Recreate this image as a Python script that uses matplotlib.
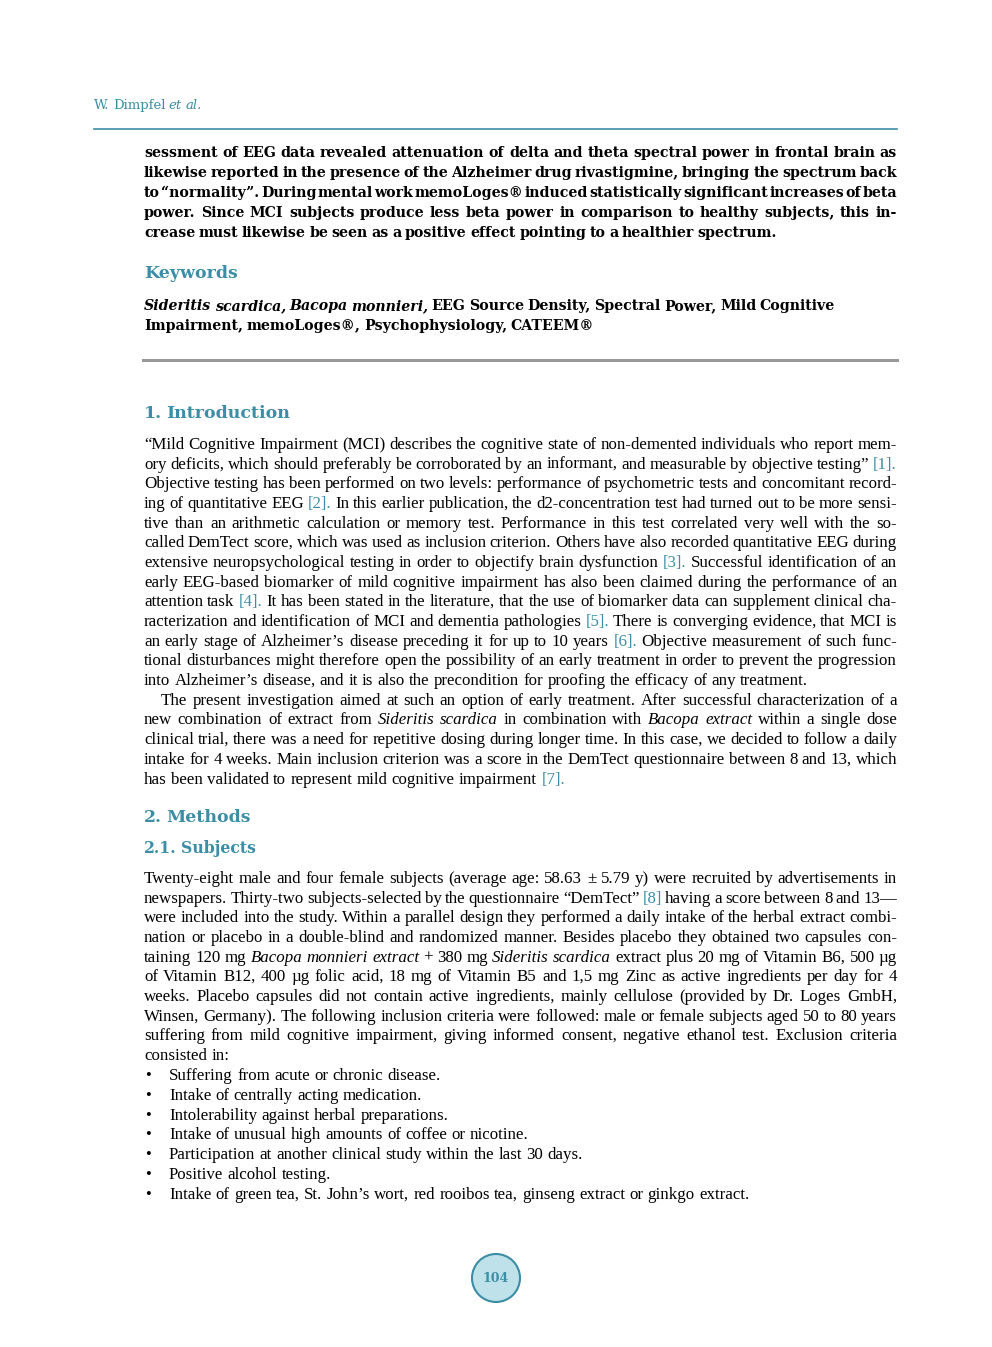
import matplotlib
matplotlib.use("Agg")
import matplotlib.pyplot as plt
from matplotlib.patches import Circle

TEAL = "#3b8ea5"
SERIF = ["Liberation Serif", "DejaVu Serif"]
HEAD = ["DejaVu Serif"]

header = "W. Dimpfel *et* *al.*"
abstract_lines = [
    "sessment of EEG data revealed attenuation of delta and theta spectral power in frontal brain as",
    "likewise reported in the presence of the Alzheimer drug rivastigmine, bringing the spectrum back",
    "to “normality”. During mental work memoLoges® induced statistically significant increases of beta",
    "power. Since MCI subjects produce less beta power in comparison to healthy subjects, this in-",
    "crease must likewise be seen as a positive effect pointing to a healthier spectrum.",
]
keyword_lines = [
    "*Sideritis* *scardica*, *Bacopa* *monnieri*, EEG Source Density, Spectral Power, Mild Cognitive",
    "Impairment, memoLoges®, Psychophysiology, CATEEM®",
]
intro_lines = [
    "“Mild Cognitive Impairment (MCI) describes the cognitive state of non-demented individuals who report mem-",
    "ory deficits, which should preferably be corroborated by an informant, and measurable by objective testing” [1].",
    "Objective testing has been performed on two levels: performance of psychometric tests and concomitant record-",
    "ing of quantitative EEG [2]. In this earlier publication, the d2-concentration test had turned out to be more sensi-",
    "tive than an arithmetic calculation or memory test. Performance in this test correlated very well with the so-",
    "called DemTect score, which was used as inclusion criterion. Others have also recorded quantitative EEG during",
    "extensive neuropsychological testing in order to objectify brain dysfunction [3]. Successful identification of an",
    "early EEG-based biomarker of mild cognitive impairment has also been claimed during the performance of an",
    "attention task [4]. It has been stated in the literature, that the use of biomarker data can supplement clinical cha-",
    "racterization and identification of MCI and dementia pathologies [5]. There is converging evidence, that MCI is",
    "an early stage of Alzheimer’s disease preceding it for up to 10 years [6]. Objective measurement of such func-",
    "tional disturbances might therefore open the possibility of an early treatment in order to prevent the progression",
    "into Alzheimer’s disease, and it is also the precondition for proofing the efficacy of any treatment.",
    "The present investigation aimed at such an option of early treatment. After successful characterization of a",
    "new combination of extract from *Sideritis* *scardica* in combination with *Bacopa* *extract* within a single dose",
    "clinical trial, there was a need for repetitive dosing during longer time. In this case, we decided to follow a daily",
    "intake for 4 weeks. Main inclusion criterion was a score in the DemTect questionnaire between 8 and 13, which",
    "has been validated to represent mild cognitive impairment [7].",
]
intro_y = [444, 464, 483, 503, 523, 542, 562, 582, 601, 621, 641, 660, 680, 700, 719, 739, 759, 779]
intro_last = {12, 17}
subject_lines = [
    "Twenty-eight male and four female subjects (average age: 58.63 ± 5.79 y) were recruited by advertisements in",
    "newspapers. Thirty-two subjects-selected by the questionnaire “DemTect” [8] having a score between 8 and 13—",
    "were included into the study. Within a parallel design they performed a daily intake of the herbal extract combi-",
    "nation or placebo in a double-blind and randomized manner. Besides placebo they obtained two capsules con-",
    "taining 120 mg *Bacopa* *monnieri* *extract* + 380 mg *Sideritis* *scardica* extract plus 20 mg of Vitamin B6, 500 µg",
    "of Vitamin B12, 400 µg folic acid, 18 mg of Vitamin B5 and 1,5 mg Zinc as active ingredients per day for 4",
    "weeks. Placebo capsules did not contain active ingredients, mainly cellulose (provided by Dr. Loges GmbH,",
    "Winsen, Germany). The following inclusion criteria were followed: male or female subjects aged 50 to 80 years",
    "suffering from mild cognitive impairment, giving informed consent, negative ethanol test. Exclusion criteria",
    "consisted in:",
]
subject_y = [878, 898, 917, 937, 957, 976, 996, 1016, 1035, 1055]
bullets = [
    "Suffering from acute or chronic disease.",
    "Intake of centrally acting medication.",
    "Intolerability against herbal preparations.",
    "Intake of unusual high amounts of coffee or nicotine.",
    "Participation at another clinical study within the last 30 days.",
    "Positive alcohol testing.",
    "Intake of green tea, St. John’s wort, red rooibos tea, ginseng extract or ginkgo extract.",
]
bullet_y = [1075, 1095, 1115, 1134, 1154, 1174, 1194]
page_number = "104"

fig = plt.figure(figsize=(9.92, 13.47), dpi=100)
W, H = 992, 1347
rend = fig.canvas.get_renderer()

def fx(x): return x / W
def fy(y): return 1 - y / H

def line(s, y, x0=144, x1=897, justify=True, size=12.2, weight="normal", color="black",
         family=SERIF, base_italic=False):
    words = s.split(" ")
    objs, widths = [], []
    for w in words:
        it = base_italic or ("*" in w)
        w2 = w.replace("*", "")
        c = TEAL if w2.startswith("[") else color
        t = fig.text(0, fy(y + 5), w2, fontsize=size, family=family, weight=weight,
                     style="italic" if it else "normal", color=c, va="baseline", ha="left")
        objs.append(t)
        widths.append(t.get_window_extent(rend).width)
    space = 0.25 * size * 100 / 72
    if justify and len(words) > 1:
        gap = (x1 - x0 - sum(widths)) / (len(words) - 1)
    else:
        gap = space
    x = x0
    for t, wd in zip(objs, widths):
        t.set_x(fx(x))
        x += wd + gap

def hline(y, x0, x1, color, lw):
    fig.add_artist(plt.Line2D([fx(x0), fx(x1)], [fy(y), fy(y)], color=color, lw=lw))

line(header, 104, x0=94, justify=False, size=9.5, color=TEAL, family=HEAD)
hline(129, 94, 897, TEAL, 1.2)

for i, s in enumerate(abstract_lines):
    line(s, 152 + i * 20, justify=(i < 4), weight="bold", size=10.2, family=HEAD)

line("Keywords", 273, justify=False, size=12.5, weight="bold", color=TEAL, family=HEAD)
for i, s in enumerate(keyword_lines):
    line(s, 305 + i * 20, justify=False, weight="bold", size=10.2, family=HEAD)
hline(360, 143, 897, "#999999", 2.2)

line("1. Introduction", 413, justify=False, size=12.5, weight="bold", color=TEAL, family=HEAD)
for i, (s, y) in enumerate(zip(intro_lines, intro_y)):
    x0 = 161 if i == 13 else 144
    line(s, y, x0=x0, justify=(i not in intro_last))

line("2. Methods", 817, justify=False, size=12.5, weight="bold", color=TEAL, family=HEAD)
line("2.1. Subjects", 848, justify=False, size=11.3, weight="bold", color=TEAL, family=HEAD)
for i, (s, y) in enumerate(zip(subject_lines, subject_y)):
    line(s, y, justify=(i < len(subject_lines) - 1))
for s, y in zip(bullets, bullet_y):
    fig.text(fx(145), fy(y + 5), "•", fontsize=12, family=SERIF, va="baseline")
    line(s, y, x0=169, justify=False)

ax_c = fig.add_axes([0, 0, 1, 1], facecolor="none")
ax_c.set_axis_off()
ax_c.set_xlim(0, W); ax_c.set_ylim(H, 0)
ax_c.add_patch(Circle((496, 1278), 24, facecolor="#bfe1ea", edgecolor=TEAL, lw=1.5))
ax_c.text(496, 1279, page_number, ha="center", va="center", fontsize=9,
          family=HEAD, weight="bold", color=TEAL)

fig.savefig("out.png", dpi=100)
